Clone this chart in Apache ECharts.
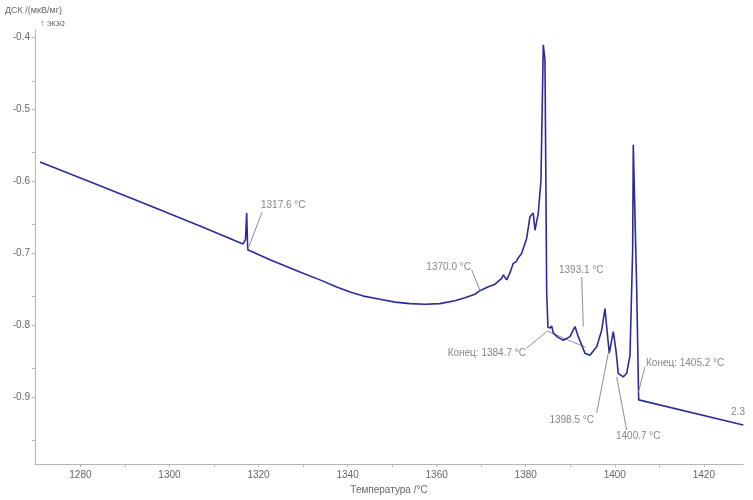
<!DOCTYPE html>
<html>
<head>
<meta charset="utf-8">
<script src="https://cdn.jsdelivr.net/npm/echarts@6/dist/echarts.min.js"></script>
<style>
html,body{margin:0;padding:0;background:#fff;}
#chart{width:753px;height:500px;}
</style>
</head>
<body>
<div id="chart"></div>
<script>
// Temperature (°C) and DSC signal (µV/mg)
const temps = [1270.92,1284.40,1295.62,1306.85,1316.51,1317.07,1317.34,1317.57,1322.57,1329.31,1333.80,1337.55,1340.54,1343.90,1347.28,1350.65,1354.00,1357.40,1360.75,1364.10,1366.37,1368.60,1369.73,1371.50,1373.10,1374.60,1374.97,1375.73,1376.47,1377.21,1377.82,1378.27,1379.10,1380.22,1380.96,1381.70,1382.08,1382.83,1383.43,1383.95,1384.33,1384.71,1385.00,1385.45,1385.83,1386.19,1387.25,1388.44,1389.94,1391.07,1391.81,1393.31,1394.43,1395.94,1397.06,1397.80,1398.32,1398.77,1399.67,1400.27,1400.79,1401.91,1402.68,1403.42,1404.02,1404.16,1404.92,1405.37,1428.86];
const dsc   = [-0.573,-0.606,-0.634,-0.662,-0.687,-0.681,-0.644,-0.695,-0.709,-0.726,-0.737,-0.747,-0.754,-0.760,-0.764,-0.768,-0.770,-0.771,-0.770,-0.766,-0.762,-0.757,-0.752,-0.747,-0.743,-0.735,-0.730,-0.737,-0.727,-0.714,-0.712,-0.707,-0.700,-0.679,-0.649,-0.644,-0.668,-0.644,-0.598,-0.410,-0.431,-0.755,-0.803,-0.804,-0.801,-0.811,-0.817,-0.821,-0.816,-0.802,-0.816,-0.839,-0.842,-0.830,-0.807,-0.777,-0.811,-0.839,-0.809,-0.835,-0.867,-0.872,-0.867,-0.842,-0.695,-0.549,-0.747,-0.904,-0.939];
// integration baseline segment
const baseTemps = [1384.71, 1393.50];
const baseDsc   = [-0.808, -0.831];
// tick labels
const xLabels = [1280,1300,1320,1340,1360,1380,1400,1420];
const xTicks  = [1280,1290,1300,1310,1320,1330,1340,1350,1360,1370,1380,1390,1400,1410,1420];
const yLabels = [-0.9,-0.8,-0.7,-0.6,-0.5,-0.4];
const yTicks  = [-0.96,-0.9,-0.86,-0.8,-0.76,-0.7,-0.66,-0.6,-0.56,-0.5,-0.46,-0.4];
// annotations: text, text anchor [T,val], side, leader from, leader to
const annTexts  = ['1317.6 °C','1370.0 °C','1393.1 °C','Конец: 1384.7 °C','1398.5 °C','1400.7 °C','Конец: 1405.2 °C','2.3'];
const annAnchor = [[1320.33,-0.633],[1367.93,-0.719],[1387.25,-0.723],[1380.29,-0.839],[1395.56,-0.932],[1400.05,-0.955],[1406.79,-0.853],[1425.9,-0.921]];
const annSide   = ['right','left','right','left','left','right','right','right'];
const leadFrom  = [[1317.63,-0.694],[1369.73,-0.752],[1392.93,-0.802],[1384.71,-0.809],[1398.55,-0.839],[1400.43,-0.872],[1405.28,-0.894]];
const leadTo    = [[1320.78,-0.643],[1367.87,-0.723],[1392.57,-0.733],[1380.22,-0.832],[1395.94,-0.922],[1402.68,-0.946],[1406.79,-0.858]];

const chart = echarts.init(document.getElementById('chart'), null, {renderer:'canvas'});
const textColor = '#666';
const axisColor = '#b5b5b5';
const font = 'Liberation Sans, Arial, sans-serif';

const option = {
  animation: false,
  backgroundColor: '#fff',
  grid: {left: 35, right: 10, top: 30, bottom: 36},
  xAxis: {
    type: 'value', min: 1269.8, max: 1428.8,
    name: 'Температура /°C', nameLocation: 'middle', nameGap: 20,
    nameTextStyle: {color: textColor, fontSize: 10, fontFamily: font},
    axisLine: {show: true, lineStyle: {color: axisColor}},
    axisTick: {show: true, length: 3, customValues: xTicks, lineStyle: {color: axisColor}},
    axisLabel: {customValues: xLabels, color: textColor, fontSize: 10, fontFamily: font, margin: 6,
      formatter: v => String(Math.round(v))},
    splitLine: {show: false}
  },
  yAxis: {
    type: 'value', min: -0.9932, max: -0.3893,
    axisLine: {show: true, onZero: false, lineStyle: {color: axisColor}},
    axisTick: {show: true, length: 3, customValues: yTicks, lineStyle: {color: axisColor}},
    axisLabel: {customValues: yLabels, color: textColor, fontSize: 10, fontFamily: font, margin: 5,
      formatter: v => v.toFixed(1)},
    splitLine: {show: false}
  },
  graphic: [
    {type: 'text', left: 5, top: 6, style: {text: 'ДСК /(мкВ/мг)', fill: textColor, font: '9px ' + font}},
    {type: 'text', left: 40, top: 19, style: {text: '↑ экзо', fill: textColor, font: '9px ' + font}}
  ],
  series: [
    {
      type: 'line', name: 'base', data: baseTemps.map((t,i)=>[t, baseDsc[i]]),
      showSymbol: false, lineStyle: {color: '#8a8ac8', width: 1}, z: 2, silent: true
    },
    {
      type: 'line', name: 'DSC', data: temps.map((t,i)=>[t, dsc[i]]),
      showSymbol: false, lineStyle: {color: '#2c2c98', width: 1.6}, z: 3, silent: true
    },
    {
      type: 'scatter', name: 'ann', symbolSize: 0, silent: true, z: 4,
      data: annTexts.map((s,i)=>({value: annAnchor[i], name: s,
        label: {show: true, position: annSide[i], distance: 1, formatter: s,
                color: textColor, fontSize: 10, fontFamily: font}})),
      markLine: {
        silent: true, symbol: 'none', animation: false,
        label: {show: false},
        lineStyle: {color: '#8c8c8c', width: 1, type: 'solid'},
        data: leadFrom.map((p,i)=>[{coord: p}, {coord: leadTo[i]}])
      }
    }
  ]
};
chart.setOption(option);
</script>
</body>
</html>
